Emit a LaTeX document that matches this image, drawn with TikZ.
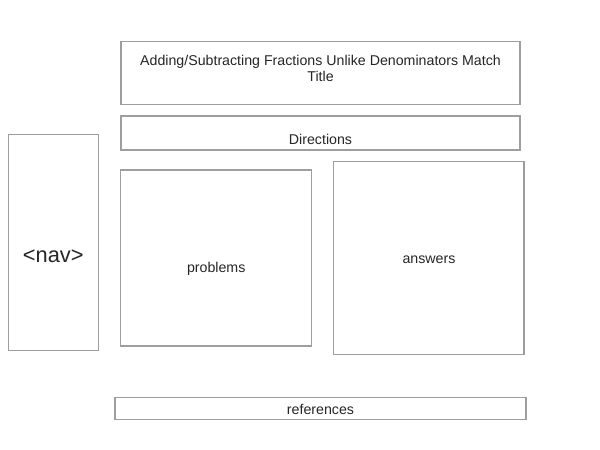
\documentclass[tikz,border=0pt]{standalone}
\usepackage{fontspec}
\setmainfont{Liberation Sans}
\begin{document}
\begin{tikzpicture}[x=1pt,y=-1pt,
  box/.style={draw=black!38, line width=1.3pt, inner sep=0pt},
  txt/.style={text=black!85, font=\fontsize{14.2}{16.7}\selectfont, inner sep=0pt, align=center}]
\useasboundingbox[fill=white] (0,0) rectangle (600,450);

% page regions
\node[box, minimum width=399pt, minimum height=63pt] (title) at (320.5,72.8) {};
\node[box, minimum width=399pt, minimum height=34pt] (directions) at (320.5,133) {};
\node[box, minimum width=90pt, minimum height=216.5pt] (nav) at (53.3,242.5) {};
\node[box, minimum width=191pt, minimum height=176pt] (problems) at (216.2,258) {};
\node[box, minimum width=190.7pt, minimum height=192.6pt] (answers) at (428.7,258) {};
\node[box, minimum width=411pt, minimum height=22.5pt] (references) at (320.5,408.5) {};

% region labels
\node[txt] (titletext) at (320.5,68.5) {Adding/Subtracting Fractions Unlike Denominators Match\\Title};
\node[txt] (directionstext) at (320.5,139.5) {Directions};
\node[txt, font=\fontsize{21.8}{26}\selectfont] (navtext) at (53.3,256.5) {<nav>};
\node[txt] (problemstext) at (216.2,268.5) {problems};
\node[txt] (answerstext) at (429,259.5) {answers};
\node[txt] (referencestext) at (320.5,409.5) {references};
\end{tikzpicture}
\end{document}
